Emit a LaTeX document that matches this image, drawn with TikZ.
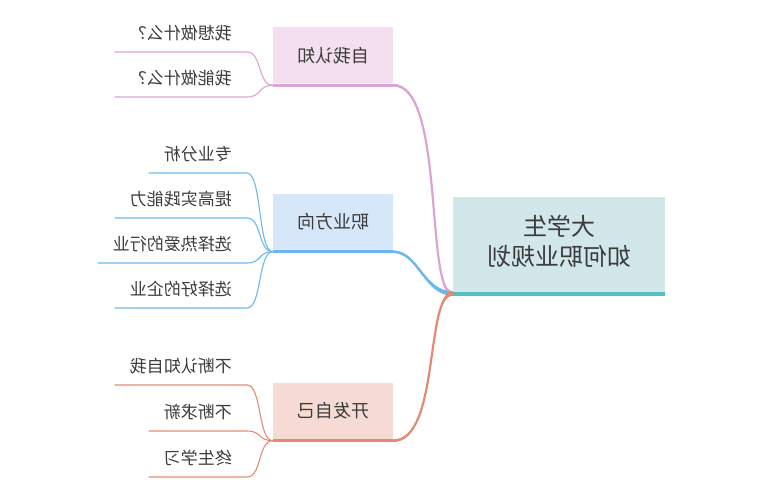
\documentclass[tikz,border=0pt]{standalone}
\usepackage{fontspec}
\usepackage{graphicx}
\newfontfamily\cjk{Noto Sans CJK SC}
\definecolor{rootfill}{HTML}{D1E7EA}
\definecolor{rootline}{HTML}{55BEBE}
\definecolor{pinkfill}{HTML}{F4DFF0}
\definecolor{pinkline}{HTML}{DDA3D4}
\definecolor{bluefill}{HTML}{D6E7F9}
\definecolor{blueline}{HTML}{6CB8EE}
\definecolor{orngfill}{HTML}{F6DBD4}
\definecolor{orngline}{HTML}{E38B72}
\definecolor{txt}{HTML}{3C3C3C}

\begin{document}
\begin{tikzpicture}[x=1pt,y=-1pt,
  every node/.style={text=txt},
  rootbox/.style={fill=rootfill,minimum width=212pt,minimum height=95pt,inner sep=0pt,
    font=\cjk\fontsize{24}{31}\selectfont},
  topic/.style={minimum width=120pt,minimum height=56pt,inner sep=0pt,
    font=\cjk\fontsize{18}{22}\selectfont},
  leaf/.style={anchor=south east,inner xsep=15pt,inner ysep=0pt,minimum height=38pt,
    font=\cjk\fontsize{17}{20}\selectfont},
  twig/.style={line width=1.1pt},
  limb/.style={line width=2.2pt}]
\useasboundingbox (0,0) rectangle (760,502);

% centre
\node[rootbox] (root) at (559,244.5) {\reflectbox{\begin{tabular}{@{}c@{}}大学生\\[-1pt]如何职业规划\end{tabular}}};
\draw[rootline,line width=4pt] ([yshift=-2pt]root.south west) -- ([yshift=-2pt]root.south east);

% main topics
\node[topic,fill=pinkfill] (self) at (333,55.5) {\reflectbox{自我认知}};
\node[topic,fill=bluefill] (career) at (333,222) {\reflectbox{职业方向}};
\node[topic,fill=orngfill] (dev) at (333,411) {\reflectbox{开发自己}};
\draw[pinkline,line width=3pt] ([yshift=-1.5pt]self.south west) -- ([yshift=-1.5pt]self.south east);
\draw[blueline,line width=3pt] ([yshift=-1.5pt]career.south west) -- ([yshift=-1.5pt]career.south east);
\draw[orngline,line width=3pt] ([yshift=-1.5pt]dev.south west) -- ([yshift=-1.5pt]dev.south east);

% branches, thicker towards the centre
\draw[limb,pinkline] ([yshift=-1.5pt]self.south east) .. controls +(52,0) and +(-28,0) .. ([yshift=-1.3pt]root.south west);
\fill[pinkline] ([yshift=-0.2pt]self.south east) .. controls +(52,0) and +(-28,0) .. ([yshift=1pt]root.south west)
  -- ([yshift=-3.6pt]root.south west) .. controls +(-28,0) and +(52,0) .. ([yshift=-2.8pt]self.south east) -- cycle;
\draw[limb,blueline] ([yshift=-1.5pt]career.south east) .. controls +(25,0) and +(-29,0) .. ([yshift=-1.3pt]root.south west);
\fill[blueline] ([yshift=-0.2pt]career.south east) .. controls +(25,0) and +(-29,0) .. ([yshift=1pt]root.south west)
  -- ([yshift=-3.6pt]root.south west) .. controls +(-29,0) and +(25,0) .. ([yshift=-2.8pt]career.south east) -- cycle;
\draw[limb,orngline] ([yshift=-1.5pt]dev.south east) .. controls +(47,0) and +(-28,0) .. ([yshift=-1.3pt]root.south west);
\fill[orngline] ([yshift=-0.2pt]dev.south east) .. controls +(47,0) and +(-28,0) .. ([yshift=1pt]root.south west)
  -- ([yshift=-3.6pt]root.south west) .. controls +(-28,0) and +(47,0) .. ([yshift=-2.8pt]dev.south east) -- cycle;

% leaves
\node[leaf] (self1) at (247,52) {\reflectbox{我想做什么？}};
\node[leaf] (self2) at (247,97) {\reflectbox{我能做什么？}};
\node[leaf] (car1) at (247,173) {\reflectbox{专业分析}};
\node[leaf] (car2) at (247,218) {\reflectbox{提高实践能力}};
\node[leaf] (car3) at (247,263) {\reflectbox{选择热爱的行业}};
\node[leaf] (car4) at (247,308) {\reflectbox{选择好的企业}};
\node[leaf] (dev1) at (247,385) {\reflectbox{不断认知自我}};
\node[leaf] (dev2) at (247,431) {\reflectbox{不断求新}};
\node[leaf] (dev3) at (247,477) {\reflectbox{终生学习}};

\draw[twig,pinkline] ([yshift=-1.5pt]self.south west) .. controls +(-15,0) and +(15,0) .. (self1.south east) -- (self1.south west);
\draw[twig,pinkline] ([yshift=-1.5pt]self.south west) .. controls +(-15,0) and +(15,0) .. (self2.south east) -- (self2.south west);
\draw[twig,blueline] ([yshift=-1.5pt]career.south west) .. controls +(-15,0) and +(15,0) .. (car1.south east) -- (car1.south west);
\draw[twig,blueline] ([yshift=-1.5pt]career.south west) .. controls +(-15,0) and +(15,0) .. (car2.south east) -- (car2.south west);
\draw[twig,blueline] ([yshift=-1.5pt]career.south west) .. controls +(-15,0) and +(15,0) .. (car3.south east) -- (car3.south west);
\draw[twig,blueline] ([yshift=-1.5pt]career.south west) .. controls +(-15,0) and +(15,0) .. (car4.south east) -- (car4.south west);
\draw[twig,orngline] ([yshift=-1.5pt]dev.south west) .. controls +(-15,0) and +(15,0) .. (dev1.south east) -- (dev1.south west);
\draw[twig,orngline] ([yshift=-1.5pt]dev.south west) .. controls +(-15,0) and +(15,0) .. (dev2.south east) -- (dev2.south west);
\draw[twig,orngline] ([yshift=-1.5pt]dev.south west) .. controls +(-15,0) and +(15,0) .. (dev3.south east) -- (dev3.south west);
\end{tikzpicture}
\end{document}
